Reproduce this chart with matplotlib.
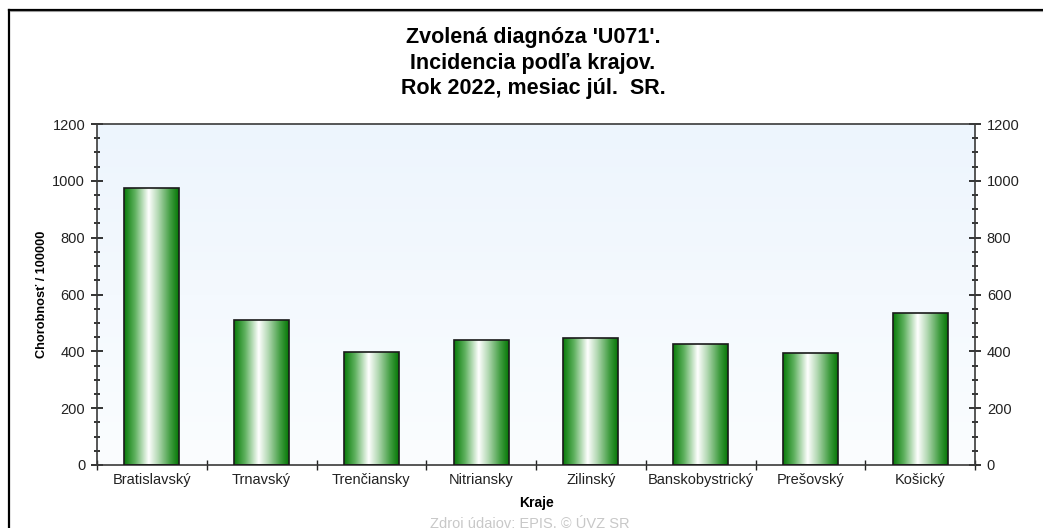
import matplotlib
matplotlib.use("Agg")
import matplotlib.pyplot as plt
import numpy as np
from matplotlib.colors import LinearSegmentedColormap
from matplotlib.lines import Line2D
from matplotlib.ticker import MultipleLocator, FixedLocator

plt.rcParams['font.family'] = ['Liberation Sans', 'DejaVu Sans']

kraje = ['Bratislavský', 'Trnavský', 'Trenčiansky', 'Nitriansky', 'Zilinský',
         'Banskobystrický', 'Prešovský', 'Košický']
chorobnost = [975, 512, 398, 440, 447, 426, 394, 535]

fig = plt.figure(figsize=(10.43, 5.28), dpi=100)
ax = fig.add_axes([97 / 1043, 1 - 465 / 528, 878 / 1043, 341 / 528])

# background gradient of the plot area
bg = LinearSegmentedColormap.from_list('bg', ['#fbfdff', '#edf5fd'])
ax.imshow(np.linspace(0, 1, 256).reshape(-1, 1), cmap=bg, origin='lower',
          extent=[-0.5, len(kraje) - 0.5, 0, 1200], aspect='auto', zorder=0)

# bars with a cylinder-like green gradient
green = LinearSegmentedColormap.from_list(
    'g', [(0.0, '#087a08'), (0.2, '#5fb15f'), (0.45, '#ffffff'),
          (0.62, '#b4d9b4'), (0.85, '#3f9c3f'), (1.0, '#067606')])
x = np.arange(len(kraje))
bars = ax.bar(x, chorobnost, width=0.5, facecolor='none', edgecolor='#1a1a1a',
              linewidth=1.2, zorder=3)
grad = np.linspace(0, 1, 256).reshape(1, -1)
for b in bars:
    im = ax.imshow(grad, cmap=green, aspect='auto', zorder=2,
                   extent=[b.get_x(), b.get_x() + b.get_width(), 0, b.get_height()])
    im.set_clip_path(b)

ax.set_xlim(-0.5, len(kraje) - 0.5)
ax.set_ylim(0, 1200)

for s in ax.spines.values():
    s.set_color('#3a3a3a')
    s.set_linewidth(1.2)

ax.xaxis.set_major_locator(FixedLocator(np.arange(-0.5, len(kraje), 1.0)))
ax.xaxis.set_minor_locator(FixedLocator(x))
ax.set_xticklabels([''] * (len(kraje) + 1))
ax.set_xticklabels(kraje, minor=True)
ax.tick_params(axis='x', which='major', direction='inout', length=7, width=1, color='#222')
ax.tick_params(axis='x', which='minor', length=0, pad=6, labelsize=10.5, labelcolor='#222')

ax.yaxis.set_major_locator(MultipleLocator(200))
ax.yaxis.set_minor_locator(MultipleLocator(50))
ax.tick_params(axis='y', which='major', direction='inout', length=8, width=1.2,
               color='#111', labelsize=10.5, labelcolor='#222', left=True, right=True,
               labelright=True, pad=4.5)
ax.tick_params(axis='y', which='minor', direction='inout', length=4, width=1.2,
               color='#111', left=True, right=True)

ax.set_xlabel('Kraje', fontsize=10, fontweight='bold', labelpad=6)
ax.set_ylabel('Chorobnosť / 100000', fontsize=9.2, fontweight='bold', labelpad=3)

fig.text(0.511, 1 - 63 / 528, "Zvolená diagnóza 'U071'.\nIncidencia podľa krajov.\nRok 2022, mesiac júl.  SR.",
         ha='center', va='center', fontsize=15.5, fontweight='bold', linespacing=1.29)
fig.text(0.508, 1 - 523 / 528, 'Zdroj údajov: EPIS, © ÚVZ SR', ha='center', va='center',
         fontsize=10.5, color='#c8c8c8')

# outer frame (left and top edges)
fig.add_artist(Line2D([9 / 1043, 9 / 1043], [0, 1 - 9.5 / 528], color='black', linewidth=1.6))
fig.add_artist(Line2D([8.5 / 1043, 1], [1 - 9.5 / 528, 1 - 9.5 / 528], color='black', linewidth=1.6))
fig.add_artist(Line2D([10 / 1043, 1], [1 - 11 / 528, 1 - 11 / 528], color='#9a9a9a', linewidth=0.8))

fig.savefig('out.png', dpi=100)
